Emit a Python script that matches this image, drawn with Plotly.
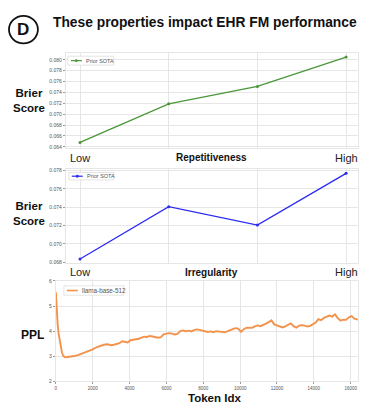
import plotly.graph_objects as go

# ---------------- data ----------------
levels = ["Low", "", "", "High"]
level_pos = [0, 1, 2, 3]
repetitiveness_brier = [0.0648, 0.0719, 0.0751, 0.0805]
irregularity_brier = [0.06835, 0.07405, 0.07205, 0.07768]

token_idx = [
    0, 30, 60, 100, 150, 200, 260, 330, 400, 480,
    560, 700, 850, 1000, 1200, 1400, 1600, 1800, 2000, 2200,
    2400, 2600, 2800, 3000, 3150, 3300, 3450, 3600, 3750, 3900,
    4050, 4200, 4350, 4500, 4650, 4800, 4950, 5100, 5250, 5400,
    5550, 5700, 5850, 6000, 6150, 6300, 6450, 6600, 6750, 6900,
    7050, 7200, 7350, 7500, 7650, 7800, 7950, 8100, 8250, 8400,
    8550, 8700, 8850, 9000, 9150, 9300, 9450, 9600, 9750, 9900,
    10050, 10200, 10350, 10500, 10650, 10800, 10950, 11100, 11250, 11400,
    11550, 11700, 11850, 12000, 12150, 12300, 12450, 12600, 12750, 12900,
    13050, 13200, 13350, 13500, 13650, 13800, 13950, 14100, 14250, 14400,
    14550, 14700, 14850, 15000, 15150, 15300, 15450, 15600, 15750, 15900,
    16050, 16200, 16384,
]
ppl = [
    5.55, 5.0, 4.6, 4.25, 3.9, 3.65, 3.4, 3.15, 3.02, 2.97,
    2.96, 2.97, 2.98, 3.01, 3.05, 3.1, 3.15, 3.21, 3.28, 3.36,
    3.42, 3.46, 3.48, 3.44, 3.46, 3.49, 3.52, 3.6, 3.57, 3.55,
    3.64, 3.66, 3.65, 3.7, 3.74, 3.78, 3.77, 3.81, 3.79, 3.77,
    3.74, 3.76, 3.87, 3.9, 3.92, 3.9, 3.87, 3.89, 4.0, 4.03,
    4.0, 4.02, 3.99, 4.04, 4.07, 4.05, 4.02, 4.0, 3.97, 3.99,
    3.96, 4.0, 3.98, 3.95, 3.96, 3.99, 4.05, 4.08, 4.12, 4.1,
    3.97, 4.08, 4.14, 4.15, 4.13, 4.19, 4.23, 4.2, 4.24, 4.3,
    4.36, 4.43, 4.27, 4.22, 4.2, 4.15, 4.19, 4.24, 4.31, 4.2,
    4.14, 4.22, 4.24, 4.22, 4.19, 4.21, 4.27, 4.34, 4.48, 4.44,
    4.53, 4.56, 4.62, 4.58, 4.67, 4.52, 4.42, 4.46, 4.45, 4.55,
    4.6, 4.5, 4.46,
]

rep_ticks = [0.064, 0.066, 0.068, 0.070, 0.072, 0.074, 0.076, 0.078, 0.080]
irr_ticks = [0.068, 0.070, 0.072, 0.074, 0.076, 0.078]
ppl_ticks = [2, 3, 4, 5, 6]
tok_ticks = [0, 2000, 4000, 6000, 8000, 10000, 12000, 14000, 16000]

# ---------------- figure ----------------
W, H = 381, 414
FONT = "Liberation Sans, Arial, sans-serif"
GRID = "#e6e6e6"
TICKF = dict(size=5, color="#555", family=FONT)
GREEN = "#4a973a"
BLUE = "#2a2af5"
ORANGE = "#f3924a"


def px_x(x):
    return x / W


def px_y(y):
    return 1 - y / H


fig = go.Figure()

fig.add_trace(go.Scatter(
    x=level_pos, y=repetitiveness_brier, mode="lines+markers", name="Prior SOTA",
    line=dict(color=GREEN, width=1.3), marker=dict(size=3, color=GREEN),
    xaxis="x", yaxis="y",
))
fig.add_trace(go.Scatter(
    x=level_pos, y=irregularity_brier, mode="lines+markers", name="Prior SOTA",
    line=dict(color=BLUE, width=1.3), marker=dict(size=3, color=BLUE),
    xaxis="x2", yaxis="y2",
))
fig.add_trace(go.Scatter(
    x=token_idx, y=ppl, mode="lines", name="llama-base-512",
    line=dict(color=ORANGE, width=1.9),
    xaxis="x3", yaxis="y3",
))

common_x = dict(showgrid=True, gridcolor=GRID, gridwidth=1, zeroline=False,
                showline=True, linecolor=GRID, mirror=True)
common_y = dict(showgrid=True, gridcolor=GRID, gridwidth=1, zeroline=False,
                showline=True, linecolor=GRID, mirror=True, tickfont=TICKF,
                ticks="outside", ticklen=2, tickcolor="#999")

fig.update_layout(
    width=W, height=H, margin=dict(l=0, r=0, t=0, b=0),
    paper_bgcolor="white", plot_bgcolor="white",
    font=dict(family=FONT),
    showlegend=False,
    xaxis=dict(domain=[px_x(65), px_x(358)], range=[-0.16, 3.135], anchor="y",
               tickvals=level_pos, showticklabels=False, **common_x),
    yaxis=dict(domain=[px_y(147), px_y(51)], range=[0.0638, 0.0812], anchor="x",
               tickvals=rep_ticks, tickformat=".3f", **common_y),
    xaxis2=dict(domain=[px_x(65), px_x(358)], range=[-0.16, 3.135], anchor="y2",
                tickvals=level_pos, showticklabels=False, **common_x),
    yaxis2=dict(domain=[px_y(264), px_y(168)], range=[0.0679, 0.0782], anchor="x2",
                tickvals=irr_ticks, tickformat=".3f", **common_y),
    xaxis3=dict(domain=[px_x(55), px_x(358)], range=[0, 16400], anchor="y3",
                tickvals=tok_ticks, tickformat="d",
                tickfont=dict(size=4.5, color="#555", family=FONT),
                ticks="outside", ticklen=2, tickcolor="#999", **common_x),
    yaxis3=dict(domain=[px_y(384), px_y(282)], range=[2, 6], anchor="x3",
                tickvals=ppl_ticks, **common_y),
)

ann = []
shapes = []
# title
ann.append(dict(text="<b>These properties impact EHR FM performance</b>", x=px_x(205), y=px_y(20),
                xref="paper", yref="paper", xanchor="center", yanchor="middle", showarrow=False,
                font=dict(size=13.8, color="#111", family=FONT)))
ann.append(dict(text="<b>D</b>", x=px_x(22.5), y=px_y(27), xref="paper", yref="paper",
                xanchor="center", yanchor="middle", showarrow=False,
                font=dict(size=17, color="#111", family=FONT)))
shapes.append(dict(type="circle", xref="paper", yref="paper",
                   x0=px_x(8), x1=px_x(37), y0=px_y(13), y1=px_y(41),
                   line=dict(color="#111", width=1.8)))
# y titles
for yc in (99, 214):
    ann.append(dict(text="<b>Brier<br>Score</b>", x=px_x(28), y=px_y(yc), xref="paper", yref="paper",
                    xanchor="center", yanchor="middle", showarrow=False, align="center",
                    font=dict(size=11.5, color="#111", family=FONT)))
ann.append(dict(text="<b>PPL</b>", x=px_x(32), y=px_y(337), xref="paper", yref="paper",
                xanchor="center", yanchor="middle", showarrow=False,
                font=dict(size=12, color="#111", family=FONT)))
ann.append(dict(text="<b>Token Idx</b>", x=px_x(214), y=px_y(401), xref="paper", yref="paper",
                xanchor="center", yanchor="middle", showarrow=False,
                font=dict(size=11.5, color="#111", family=FONT)))
# Low / title / High rows
for xr, yc, name in (("x", 157, "Repetitiveness"), ("x2", 273, "Irregularity")):
    ann.append(dict(text="Low", x=0, y=px_y(yc), xref=xr, yref="paper", xanchor="center",
                    yanchor="middle", showarrow=False, font=dict(size=11, color="#222", family=FONT)))
    ann.append(dict(text="High", x=3, y=px_y(yc), xref=xr, yref="paper", xanchor="center",
                    yanchor="middle", showarrow=False, font=dict(size=11, color="#222", family=FONT)))
    ann.append(dict(text="<b>" + name + "</b>", x=px_x(211.5), y=px_y(yc), xref="paper", yref="paper",
                    xanchor="center", yanchor="middle", showarrow=False,
                    font=dict(size=10, color="#111", family=FONT)))


# hand-drawn compact legends (matplotlib style)
def legend_box(x0, x1, y0, y1, color, label, fsize, marker, line_w):
    shapes.append(dict(type="rect", xref="paper", yref="paper",
                       x0=px_x(x0), x1=px_x(x1), y0=px_y(y1), y1=px_y(y0),
                       line=dict(color="#dddddd", width=0.8), fillcolor="white", layer="above"))
    ym = (y0 + y1) / 2
    shapes.append(dict(type="line", xref="paper", yref="paper",
                       x0=px_x(x0 + 3), x1=px_x(x0 + 14), y0=px_y(ym), y1=px_y(ym),
                       line=dict(color=color, width=line_w), layer="above"))
    if marker:
        xm = x0 + 8.5
        shapes.append(dict(type="circle", xref="paper", yref="paper",
                           x0=px_x(xm - 1.2), x1=px_x(xm + 1.2), y0=px_y(ym + 1.2), y1=px_y(ym - 1.2),
                           line=dict(color=color, width=0.5), fillcolor=color, layer="above"))
    ann.append(dict(text=label, x=px_x(x0 + 16.5), y=px_y(ym), xref="paper", yref="paper",
                    xanchor="left", yanchor="middle", showarrow=False,
                    font=dict(size=fsize, color="#555", family=FONT)))


legend_box(67, 113, 54, 63, GREEN, "Prior SOTA", 5.5, True, 1.2)
legend_box(68, 113, 172, 179.5, BLUE, "Prior SOTA", 5.5, True, 1.2)
legend_box(63, 123, 287, 296.5, ORANGE, "llama-base-512", 6.3, False, 1.6)

fig.update_layout(annotations=ann, shapes=shapes)

fig.write_html("out.html", config={"displayModeBar": False},
               post_script="document.body.style.margin='0';document.body.style.overflow='hidden';")
